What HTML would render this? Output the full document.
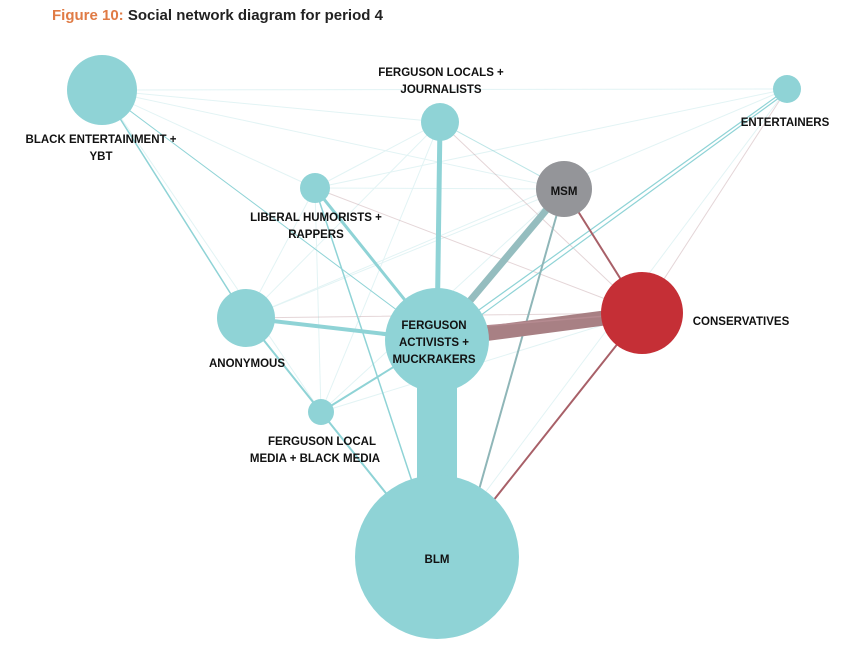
<!DOCTYPE html>
<html><head><meta charset="utf-8"><style>
body{margin:0;background:#fff;width:854px;height:646px;overflow:hidden;font-family:"Liberation Sans",sans-serif}
</style></head><body>
<svg width="854" height="646" xmlns="http://www.w3.org/2000/svg" font-family="Liberation Sans, sans-serif">
<text x="52" y="20" font-size="15" font-weight="bold" fill="#222"><tspan fill="#e07b45">Figure 10:</tspan> Social network diagram for period 4</text>
<g stroke-linecap="round">
<g stroke="#8fd3d6" stroke-width="1" opacity="0.25">
<line x1="102" y1="90" x2="787" y2="89"/>
<line x1="102" y1="90" x2="440" y2="122"/>
<line x1="102" y1="90" x2="564" y2="189"/>
<line x1="102" y1="90" x2="315" y2="188"/>
<line x1="102" y1="90" x2="321" y2="412"/>
<line x1="315" y1="188" x2="787" y2="89"/>
<line x1="315" y1="188" x2="440" y2="122"/>
<line x1="315" y1="188" x2="564" y2="189"/>
<line x1="315" y1="188" x2="246" y2="318"/>
<line x1="315" y1="188" x2="321" y2="412"/>
<line x1="440" y1="122" x2="246" y2="318"/>
<line x1="440" y1="122" x2="321" y2="412"/>
<line x1="246" y1="318" x2="564" y2="189"/>
<line x1="246" y1="318" x2="787" y2="89"/>
<line x1="321" y1="412" x2="564" y2="189"/>
<line x1="321" y1="412" x2="642" y2="313"/>
<line x1="437" y1="340" x2="787" y2="89"/>
<line x1="437" y1="557" x2="787" y2="89"/>
</g>
<g stroke="#b58a90" stroke-width="1" opacity="0.35">
<line x1="440" y1="122" x2="642" y2="313"/>
<line x1="315" y1="188" x2="642" y2="313"/>
<line x1="642" y1="313" x2="787" y2="89"/>
<line x1="246" y1="318" x2="642" y2="313"/>
</g>
<g stroke="#8fd3d6" fill="none">
<line x1="102" y1="90" x2="246" y2="318" stroke-width="1.5"/>
<line x1="102" y1="90" x2="437" y2="340" stroke-width="1"/>
<line x1="315" y1="188" x2="437" y2="340" stroke-width="3"/>
<line x1="315" y1="188" x2="437" y2="557" stroke-width="1.5"/>
<line x1="440" y1="122" x2="437" y2="340" stroke-width="5"/>
<line x1="440" y1="122" x2="564" y2="189" stroke-width="1" opacity="0.6"/>
<line x1="246" y1="318" x2="437" y2="340" stroke-width="4"/>
<line x1="246" y1="318" x2="437" y2="557" stroke-width="1.5"/>
<line x1="246" y1="318" x2="321" y2="412" stroke-width="2"/>
<line x1="321" y1="412" x2="437" y2="340" stroke-width="2"/>
<line x1="321" y1="412" x2="437" y2="557" stroke-width="2"/>
<line x1="437" y1="340" x2="787" y2="89" stroke-width="1.2"/>
<line x1="440" y1="345" x2="787" y2="92" stroke-width="1.2"/>
<line x1="437" y1="557" x2="437" y2="340" stroke-width="40"/>
</g>
<line x1="437" y1="340" x2="564" y2="189" stroke="#95bdbf" stroke-width="7"/>
<line x1="460" y1="557" x2="564" y2="189" stroke="#8fb6b8" stroke-width="2"/>
<line x1="437" y1="340" x2="642" y2="313" stroke="#a88084" stroke-width="15"/>
<line x1="437" y1="330" x2="642" y2="313" stroke="#b58a90" stroke-width="1.5"/>
<line x1="564" y1="189" x2="642" y2="313" stroke="#a86068" stroke-width="2"/>
<line x1="470" y1="530" x2="642" y2="313" stroke="#a86068" stroke-width="2"/>
</g>
<g fill="#8fd3d6">
<circle cx="102" cy="90" r="35"/>
<circle cx="315" cy="188" r="15"/>
<circle cx="440" cy="122" r="19"/>
<circle cx="787" cy="89" r="14"/>
<circle cx="246" cy="318" r="29"/>
<circle cx="437" cy="340" r="52"/>
<circle cx="321" cy="412" r="13"/>
<circle cx="437" cy="557" r="82"/>
</g>
<circle cx="564" cy="189" r="28" fill="#949599"/>
<circle cx="642" cy="313" r="41" fill="#c52f36"/>
<g font-size="11.5" font-weight="bold" fill="#111" text-anchor="middle">
<text x="101" y="143">BLACK ENTERTAINMENT +</text>
<text x="101" y="160">YBT</text>
<text x="441" y="76">FERGUSON LOCALS +</text>
<text x="441" y="93">JOURNALISTS</text>
<text x="785" y="126">ENTERTAINERS</text>
<text x="316" y="221">LIBERAL HUMORISTS +</text>
<text x="316" y="238">RAPPERS</text>
<text x="564" y="195">MSM</text>
<text x="741" y="325">CONSERVATIVES</text>
<text x="247" y="367">ANONYMOUS</text>
<text x="434" y="329">FERGUSON</text>
<text x="434" y="346">ACTIVISTS +</text>
<text x="434" y="363">MUCKRAKERS</text>
<text x="322" y="445">FERGUSON LOCAL</text>
<text x="315" y="462">MEDIA + BLACK MEDIA</text>
<text x="437" y="563">BLM</text>
</g>
</svg>
</body></html>
